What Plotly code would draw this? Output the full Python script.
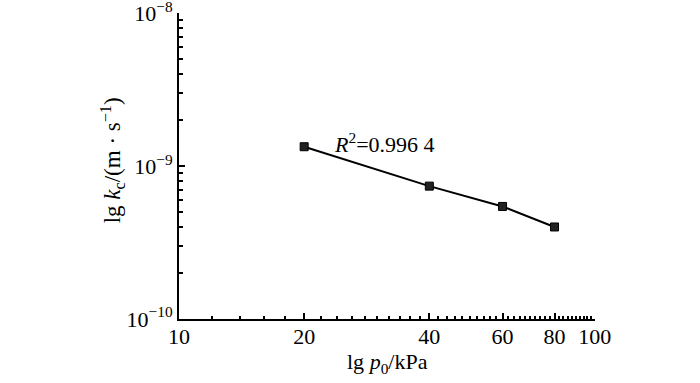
import plotly.graph_objects as go

pressure_kpa = [20, 40, 60, 80]
kc_values = [1.34e-9, 0.74e-9, 0.545e-9, 0.40e-9]

x_major = [10, 20, 40, 60, 80, 100]
x_major_text = ["10", "20", "40", "60", "80", "100"]
x_minor = [v for v in range(12, 100, 2) if v not in x_major]

y_major = [1e-10, 1e-9, 1e-8]
y_major_text = ["10<sup>−10</sup>", "10<sup>−9</sup>", "10<sup>−8</sup>"]
y_minor = [m * 10.0 ** e for e in (-10, -9) for m in range(2, 10)]

font_family = "Liberation Serif"
fsize = 22

fig = go.Figure()
fig.add_trace(go.Scatter(
    x=pressure_kpa, y=kc_values, mode="lines+markers",
    line=dict(color="black", width=2),
    marker=dict(symbol="square", size=8, color="#222222",
                line=dict(color="black", width=1)),
    showlegend=False,
))

fig.add_annotation(
    x=0.368, y=0.575, xref="paper", yref="paper",
    text="<i>R</i><sup>2</sup>=0.996 4", showarrow=False,
    xanchor="left", yanchor="middle",
    font=dict(family=font_family, size=fsize, color="black"),
)

# axis titles
fig.add_annotation(
    x=0.5, y=-0.09, xref="paper", yref="paper",
    text="lg <i>p</i><sub>0</sub>/kPa", showarrow=False,
    xanchor="center", yanchor="top",
    font=dict(family=font_family, size=fsize, color="black"),
)
fig.add_annotation(
    x=-0.16, y=0.52, xref="paper", yref="paper",
    text="lg <i>k</i><sub>c</sub>/(m · s<sup>−1</sup>)", showarrow=False,
    textangle=-90, xanchor="center", yanchor="middle",
    font=dict(family=font_family, size=23, color="black"),
)

fig.update_xaxes(
    type="log", range=[1, 2.0005],
    tickmode="array", tickvals=x_major, ticktext=x_major_text,
    ticks="inside", ticklen=6, tickwidth=1.5, tickcolor="black",
    minor=dict(tickmode="array", tickvals=x_minor, ticks="inside",
               ticklen=3.5, tickwidth=1.5, tickcolor="black"),
    showline=True, linecolor="black", linewidth=2, mirror=False,
    showgrid=False, zeroline=False, automargin=False,
    ticklabeloverflow="allow", ticklabelstandoff=-3,
    tickfont=dict(family=font_family, size=fsize, color="black"),
)
fig.update_yaxes(
    type="log", range=[-10, -7.998],
    tickmode="array", tickvals=y_major, ticktext=y_major_text,
    ticks="inside", ticklen=6, tickwidth=1.5, tickcolor="black",
    minor=dict(tickmode="array", tickvals=y_minor, ticks="inside",
               ticklen=3.5, tickwidth=1.5, tickcolor="black"),
    showline=True, linecolor="black", linewidth=2, mirror=False,
    showgrid=False, zeroline=False, automargin=False,
    ticklabeloverflow="allow",
    tickfont=dict(family=font_family, size=fsize, color="black"),
)

fig.update_layout(
    width=700, height=383,
    margin=dict(l=179, r=105, t=13, b=64),
    paper_bgcolor="white", plot_bgcolor="white",
)

fig.write_html(
    "out.html",
    config={"displayModeBar": False},
    post_script="document.body.style.margin='0';document.body.style.overflow='hidden';",
)
